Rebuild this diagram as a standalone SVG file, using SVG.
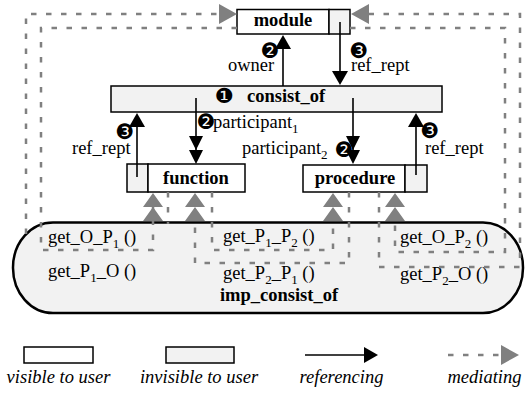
<svg xmlns="http://www.w3.org/2000/svg" width="526" height="394" viewBox="0 0 526 394">
<style>
.t{font-family:'Liberation Serif','DejaVu Serif',serif;font-size:18.5px;fill:#000}
.b{font-weight:bold}
.i{font-style:italic}
.n{font-family:'DejaVu Sans',sans-serif;font-size:21px;fill:#000;text-anchor:middle}
.vis{fill:#fff;stroke:#000;stroke-width:1.5}
.inv{fill:#f2f2f2;stroke:#000;stroke-width:1.5}
.ref{fill:none;stroke:#000;stroke-width:1.6}
.med{fill:none;stroke:#808080;stroke-width:2.5;stroke-dasharray:5.5 9.5}
</style>
<defs>
<marker id="bk" markerUnits="userSpaceOnUse" orient="auto" refX="0" refY="0" markerWidth="16" markerHeight="16" overflow="visible"><path d="M0,-8 L14,0 L0,8 z" fill="#000" stroke="none"/></marker>
<marker id="bk2" markerUnits="userSpaceOnUse" orient="auto" refX="0" refY="0" markerWidth="16" markerHeight="16" overflow="visible"><path d="M-14,-7 L0,0 L-14,7 z M0,-7 L14,0 L0,7 z" fill="#000" stroke="none"/></marker>
<marker id="gy" markerUnits="userSpaceOnUse" orient="auto" refX="0" refY="0" markerWidth="20" markerHeight="20" overflow="visible"><path d="M0,-10 L18,0 L0,10 z" fill="#808080" stroke="none"/></marker>
<marker id="gy2" markerUnits="userSpaceOnUse" orient="auto" refX="0" refY="0" markerWidth="20" markerHeight="20" overflow="visible"><path d="M-14,-10 L0,0 L-14,10 z M0,-10 L14,0 L0,10 z" fill="#808080" stroke="none"/></marker>
</defs>

<g id="imp_consist_of">
<rect x="13" y="222.5" width="510" height="90.5" rx="40" ry="45" fill="#f2f2f2" stroke="#000" stroke-width="2.5"/>
<text class="t" x="48" y="243">get_O_P<tspan font-size="13" dy="5">1</tspan><tspan dy="-5"> ()</tspan></text>
<text class="t" x="48" y="277">get_P<tspan font-size="13" dy="5">1</tspan><tspan dy="-5">_O ()</tspan></text>
<text class="t" x="223" y="242">get_P<tspan font-size="13" dy="5">1</tspan><tspan dy="-5">_P</tspan><tspan font-size="13" dy="5">2</tspan><tspan dy="-5"> ()</tspan></text>
<text class="t" x="223" y="279">get_P<tspan font-size="13" dy="5">2</tspan><tspan dy="-5">_P</tspan><tspan font-size="13" dy="5">1</tspan><tspan dy="-5"> ()</tspan></text>
<text class="t" x="400" y="243">get_O_P<tspan font-size="13" dy="5">2</tspan><tspan dy="-5"> ()</tspan></text>
<text class="t" x="400" y="280">get_P<tspan font-size="13" dy="5">2</tspan><tspan dy="-5">_O ()</tspan></text>
<text class="t b" x="279" y="301" text-anchor="middle">imp_consist_of</text>
</g>

<g id="module">
<rect class="vis" x="237" y="9.5" width="92" height="24.5"/>
<rect class="inv" x="329" y="9.5" width="21" height="24.5"/>
<text class="t b" x="283" y="26" text-anchor="middle">module</text>
</g>

<g id="consist_of">
<rect class="inv" x="111" y="86" width="331" height="26"/>
<text class="n" x="224" y="103">❶</text>
<text class="t b" x="247" y="102">consist_of</text>
</g>

<g id="function">
<rect class="inv" x="127" y="164" width="21" height="28"/>
<rect class="vis" x="148" y="164" width="97" height="28"/>
<text class="t b" x="196" y="184" text-anchor="middle">function</text>
</g>

<g id="procedure">
<rect class="vis" x="303" y="165" width="102" height="27"/>
<rect class="inv" x="405" y="165" width="22" height="27"/>
<text class="t b" x="355" y="184" text-anchor="middle">procedure</text>
</g>

<g id="connectors">
<path class="ref" d="M283,86 V49" marker-end="url(#bk)"/>
<path class="ref" d="M340,22 V71" marker-end="url(#bk)"/>
<path class="ref" d="M196,98 V150" marker-end="url(#bk2)"/>
<path class="ref" d="M353,98 V150" marker-end="url(#bk2)"/>
<path class="ref" d="M137,177 V127" marker-end="url(#bk)"/>
<path class="ref" d="M416,175 V127" marker-end="url(#bk)"/>

<path class="med" d="M168,192 V224"/>
<path class="med" d="M26,234 V14 H219" marker-end="url(#gy)"/>
<path class="med" d="M237,28 H41 V250 H153 V207" marker-end="url(#gy2)"/>
<path class="med" d="M212,192 V250 H333 V207" marker-end="url(#gy2)"/>
<path class="med" d="M349,192 V263 H195 V207" marker-end="url(#gy2)"/>
<path class="med" d="M350,28 H505 V252 H395 V207" marker-end="url(#gy2)"/>
<path class="med" d="M379,192 V267 H520 V14 H369" marker-end="url(#gy)"/>

<text class="n" x="270" y="58">❷</text>
<text class="t" x="228" y="71">owner</text>
<text class="n" x="359" y="58">❸</text>
<text class="t" x="351" y="71">ref_rept</text>
<text class="n" x="125" y="139">❸</text>
<text class="t" x="72" y="154">ref_rept</text>
<text class="n" x="206" y="129">❷</text>
<text class="t" x="213" y="128">participant<tspan font-size="13" dy="5">1</tspan></text>
<text class="t" x="242" y="154">participant<tspan font-size="13" dy="5">2</tspan></text>
<text class="n" x="344" y="157">❷</text>
<text class="n" x="430" y="138">❸</text>
<text class="t" x="425" y="154">ref_rept</text>
</g>

<g id="legend">
<rect class="vis" x="24" y="347" width="69" height="16"/>
<text class="t i" x="58.5" y="383" text-anchor="middle">visible to user</text>
<rect class="inv" x="166" y="347" width="68" height="16"/>
<text class="t i" x="199" y="383" text-anchor="middle">invisible to user</text>
<path class="ref" d="M305,355 H364" marker-end="url(#bk)"/>
<text class="t i" x="341.5" y="383" text-anchor="middle">referencing</text>
<path class="med" d="M448,355 H501" marker-end="url(#gy)"/>
<text class="t i" x="484.5" y="383" text-anchor="middle">mediating</text>
</g>
</svg>
